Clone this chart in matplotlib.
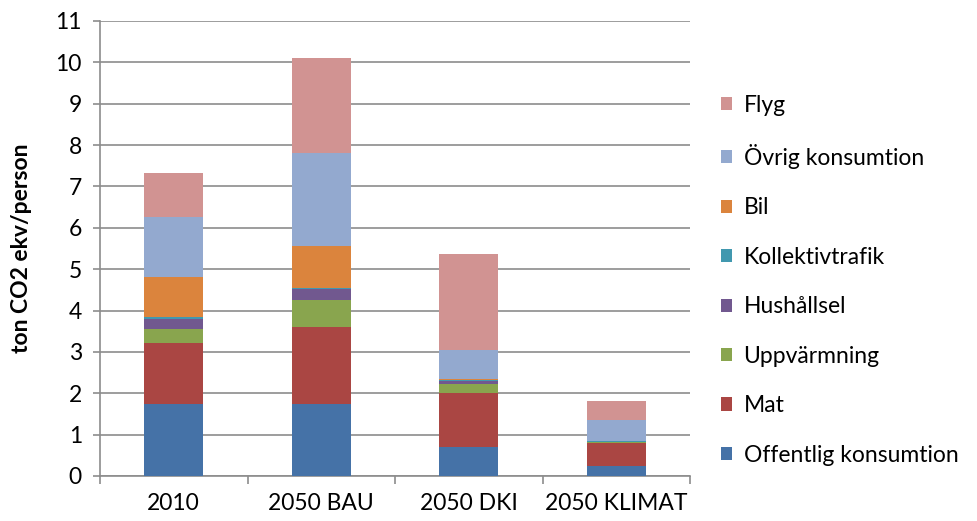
"""
Stacked bar chart: ton CO2 ekv/person per scenario.
"""

import numpy as np
import matplotlib.pyplot as plt

plt.rcParams["font.family"] = ["Lato", "DejaVu Sans"]

scenarios = ["2010", "2050 BAU", "2050 DKI", "2050 KLIMAT"]

# bottom to top
offentlig = [1.73, 1.73, 0.69, 0.25]
mat = [1.48, 1.88, 1.31, 0.54]
uppvarmning = [0.34, 0.65, 0.22, 0.02]
hushallsel = [0.25, 0.25, 0.08, 0.02]
kollektiv = [0.04, 0.04, 0.03, 0.01]
bil = [0.98, 1.02, 0.02, 0.01]
ovrig = [1.45, 2.23, 0.70, 0.50]
flyg = [1.06, 2.31, 2.31, 0.47]

series = [
    ("Offentlig konsumtion", offentlig, "#4572A7"),
    ("Mat", mat, "#AA4643"),
    ("Uppvärmning", uppvarmning, "#89A54E"),
    ("Hushållsel", hushallsel, "#71588F"),
    ("Kollektivtrafik", kollektiv, "#4198AF"),
    ("Bil", bil, "#DB843D"),
    ("Övrig konsumtion", ovrig, "#93A9CF"),
    ("Flyg", flyg, "#D19392"),
]

W, H = 977, 521
fig = plt.figure(figsize=(W / 100, H / 100), dpi=100)
ax = fig.add_axes([100 / W, (H - 476) / H, 590 / W, 455 / H])

x = np.arange(len(scenarios))
bottom = np.zeros(len(scenarios))
handles = []
for name, vals, color in series:
    b = ax.bar(x, vals, width=0.4, bottom=bottom, color=color, label=name, zorder=3)
    handles.append(b)
    bottom += np.array(vals)

grid_col = "#8c8c8c"
ax.set_ylim(0, 11)
ax.set_xlim(-0.5, 3.5)
ax.set_yticks(range(0, 12))
ax.yaxis.grid(True, color=grid_col, linewidth=1.2, zorder=0)
ax.tick_params(axis="y", length=5, color=grid_col, width=1.2, labelsize=16.5, pad=8)

ax.set_xticks(x)
ax.set_xticklabels(scenarios)
ax.tick_params(axis="x", which="major", length=0, labelsize=16.5, pad=12)
ax.set_xticks(np.arange(-0.5, 4, 1), minor=True)
ax.tick_params(axis="x", which="minor", length=6, color=grid_col, width=1.2)

for s in ["top", "right"]:
    ax.spines[s].set_visible(False)
for s in ["left", "bottom"]:
    ax.spines[s].set_color(grid_col)
    ax.spines[s].set_linewidth(1.2)

ax.set_ylabel("ton CO2 ekv/person", fontsize=16.5, fontweight="bold", labelpad=17)

fig.legend(
    handles=handles[::-1],
    loc="upper left",
    bbox_to_anchor=(700 / W, 1 - 74 / H),
    frameon=False,
    fontsize=16.5,
    handlelength=0.5,
    handleheight=0.5,
    handletextpad=0.5,
    labelspacing=1.24,
)

fig.savefig("out.png", dpi=100)
plt.close(fig)
